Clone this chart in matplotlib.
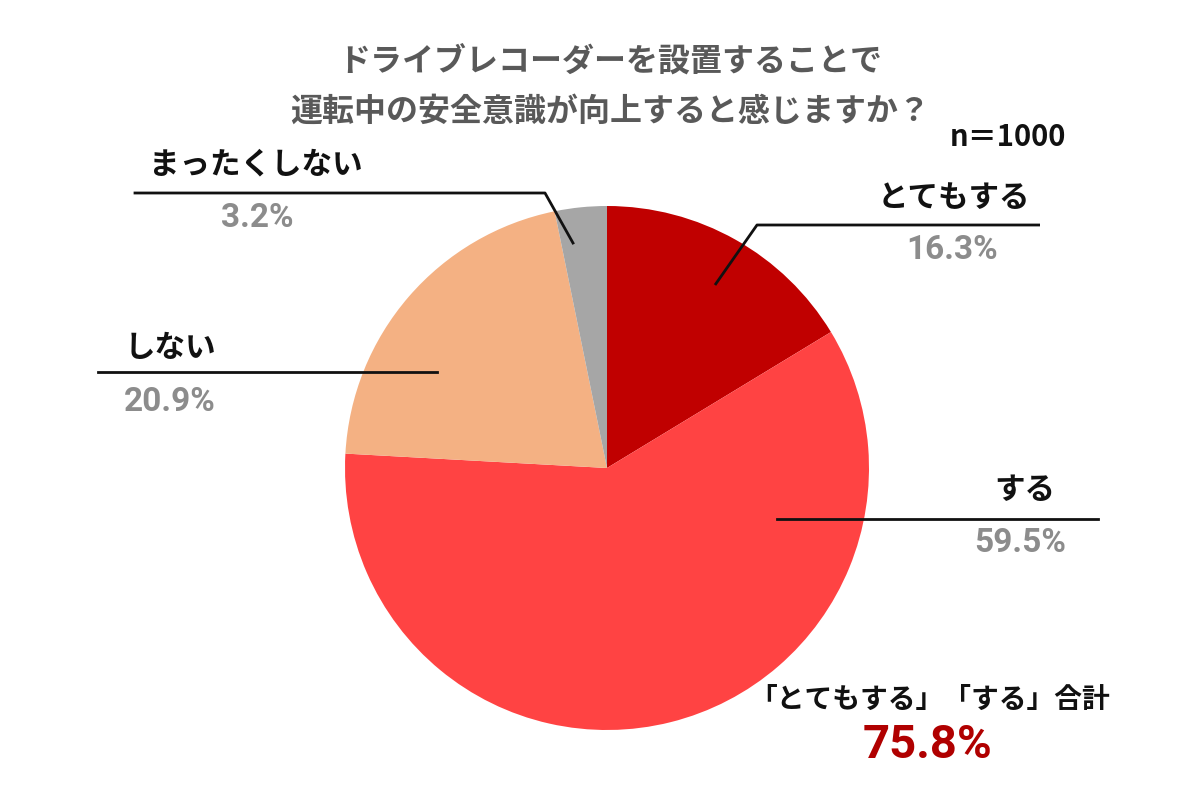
import matplotlib
matplotlib.use("Agg")
import matplotlib.pyplot as plt

plt.rcParams['font.family'] = ['Noto Sans CJK JP', 'DejaVu Sans']

categories = ["とてもする", "する", "しない", "まったくしない"]
values = [16.3, 59.5, 20.9, 3.2]
colors = ["#C00000", "#FF4343", "#F4B183", "#A6A6A6"]
title_lines = ["ドライブレコーダーを設置することで", "運転中の安全意識が向上すると感じますか？"]
n_label = "n＝1000"
total_label = "「とてもする」「する」合計"
total_value = "75.8%"

W, H = 1200, 799
fig = plt.figure(figsize=(W / 100, H / 100), dpi=100)
ax = fig.add_axes([0, 0, 1, 1])

def Y(y):
    return H - y

ax.pie(values, colors=colors, startangle=90, counterclock=False,
       center=(607, Y(468)), radius=262, frame=True,
       wedgeprops=dict(linewidth=0))
ax.set_xlim(0, W)
ax.set_ylim(0, H)
ax.set_aspect('equal')
ax.axis('off')

# title
ax.text(610, Y(63), title_lines[0], ha='center', va='center', fontsize=23,
        fontweight='bold', color='#595959')
ax.text(610, Y(112), title_lines[1], ha='center', va='center', fontsize=23,
        fontweight='bold', color='#595959')
ax.text(1008, Y(137), n_label, ha='center', va='center', fontsize=21,
        fontweight='bold', color='#111111')

lc = '#111111'
lw = 2
# leader lines
ax.plot([715, 757, 1040], [Y(285), Y(225), Y(225)], color=lc, lw=lw, solid_capstyle='butt')
ax.plot([777, 1098], [Y(519), Y(519)], color=lc, lw=lw)
ax.plot([98, 437], [Y(372), Y(372)], color=lc, lw=lw)
ax.plot([135, 545, 573], [Y(193), Y(193), Y(243)], color=lc, lw=lw)

pct_family = ['Roboto', 'Noto Sans CJK JP']
lab_pos = [(954, 198, 952, 250), (1025, 490, 1020, 543),
           (170, 348, 170, 402), (256, 165, 257, 218)]
for cat, v, (lx, ly, px, py) in zip(categories, values, lab_pos):
    ax.text(lx, Y(ly), cat, ha='center', va='center', fontsize=22,
            fontweight='bold', color='#111111')
    ax.text(px, Y(py), f"{v:.1f}%", ha='center', va='center', fontsize=24,
            fontweight='bold', color='#8C8C8C', family=pct_family)

ax.text(930, Y(700), total_label, ha='center', va='center', fontsize=20,
        fontweight='bold', color='#111111')
ax.text(928, Y(745), total_value, ha='center', va='center', fontsize=34,
        fontweight='bold', color='#B00000', family=pct_family)

fig.savefig('out.png', dpi=100, facecolor='white')
